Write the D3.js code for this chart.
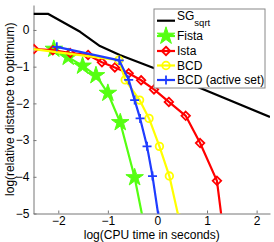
<!DOCTYPE html>
<html>
<head>
<meta charset="utf-8">
<script src="https://cdn.jsdelivr.net/npm/d3@7"></script>
<style>
  html, body { margin: 0; padding: 0; background: #fff; }
  svg { display: block; font-family: "Liberation Sans", Arial, sans-serif; }
  .tick text { font-size: 12px; fill: #000; }
  .axis-lbl { font-size: 12px; fill: #000; }
  .leg-txt { font-size: 12px; fill: #000; }
</style>
</head>
<body>
<svg id="chart"></svg>
<script>
const SVG_W = 274;
const SVG_H = 242;

// log10 CPU time / log10 relative distance
const sgX    = [-2.50, -2.21, -1.56, -1.16, -0.76, -0.05, 0.80, 2.27];
const sgY    = [ 0.44,  0.44, -0.05, -0.44, -0.68, -1.05, -1.55, -2.37];

const fistaX = [-2.09, -1.80, -1.51, -1.24, -1.00, -0.75, -0.46, -0.21];
const fistaY = [-0.52, -0.74, -0.98, -1.24, -1.72, -2.52, -4.02, -5.72];

const istaX  = [-2.49, -2.11, -1.76, -1.40, -1.12, -0.86, -0.58, -0.33, -0.07, 0.23, 0.57, 0.86, 1.20, 1.33];
const istaY  = [-0.52, -0.55, -0.63, -0.68, -0.88, -1.02, -1.18, -1.37, -1.62, -1.96, -2.34, -3.08, -4.11, -5.50];

const bcdX   = [-2.50, -0.78, -0.65, -0.36, -0.17, 0.04, 0.24, 0.43];
const bcdY   = [-0.52, -0.82, -1.36, -1.91, -2.41, -3.17, -3.98, -5.12];

const bcdaX  = [-2.03, -0.77, -0.58, -0.46, -0.35, -0.21, -0.10, 0.02];
const bcdaY  = [-0.46, -0.83, -1.36, -1.91, -2.41, -3.17, -3.98, -5.07];

const xTicks = [-2, -1, 0, 1, 2];
const yTicks = [-5, -4, -3, -2, -1, 0];

const seriesNames = ['SG', 'Fista', 'Ista', 'BCD', 'BCD (active set)'];

const MARGIN = { top: 5, right: 4, bottom: 28.5, left: 33.5 };
const W = SVG_W - MARGIN.left - MARGIN.right;
const H = SVG_H - MARGIN.top - MARGIN.bottom;

const xScale = d3.scaleLinear().domain([-2.5, 2.27]).range([0, W]);
const yScale = d3.scaleLinear().domain([-5, 0.68]).range([H, 0]);

// custom marker shapes
const plusSym = {
  draw(ctx, size) {
    const r = Math.sqrt(size) / 2;
    ctx.moveTo(-r, 0); ctx.lineTo(r, 0);
    ctx.moveTo(0, -r); ctx.lineTo(0, r);
  }
};
const diamondSym = {
  draw(ctx, size) {
    const r = Math.sqrt(size) / 2;
    ctx.moveTo(0, -r); ctx.lineTo(r, 0); ctx.lineTo(0, r); ctx.lineTo(-r, 0);
    ctx.closePath();
  }
};

const series = [
  { xs: sgX,    ys: sgY,    color: '#000000', marker: null },
  { xs: fistaX, ys: fistaY, color: '#55ff11', marker: d3.symbol(d3.symbolStar, 95), fill: true },
  { xs: istaX,  ys: istaY,  color: '#ff0000', marker: d3.symbol(diamondSym, 72) },
  { xs: bcdX,   ys: bcdY,   color: '#ffff00', marker: d3.symbol(d3.symbolCircle, 45) },
  { xs: bcdaX,  ys: bcdaY,  color: '#1f3cff', marker: d3.symbol(plusSym, 81) }
];

const svg = d3.select('#chart')
  .attr('width', SVG_W)
  .attr('height', SVG_H);

svg.append('defs').append('clipPath').attr('id', 'plot-clip')
  .append('rect').attr('x', 0).attr('y', 0).attr('width', W).attr('height', H);

const g = svg.append('g').attr('transform', `translate(${MARGIN.left},${MARGIN.top})`);

const fmt = d3.format('d');

// axes, ticks point inwards
const xAxis = g.append('g')
  .attr('transform', `translate(0,${H})`)
  .call(d3.axisBottom(xScale).tickValues(xTicks).tickFormat(fmt).tickSizeInner(-3).tickSizeOuter(0).tickPadding(3));
const yAxis = g.append('g')
  .call(d3.axisLeft(yScale).tickValues(yTicks).tickFormat(fmt).tickSizeInner(-3).tickSizeOuter(0).tickPadding(4));

[xAxis, yAxis].forEach(a => {
  a.select('.domain').attr('stroke', '#777');
  a.selectAll('.tick line').attr('stroke', '#777');
  a.selectAll('.tick text').style('font-size', '12px');
});

const plot = g.append('g').attr('clip-path', 'url(#plot-clip)');

const line = d3.line().x(d => xScale(d[0])).y(d => yScale(d[1]));
const x0 = xScale.domain()[0];

series.forEach(s => {
  const pts = s.xs.map((x, i) => [x, s.ys[i]]);
  plot.append('path')
    .attr('d', line(pts))
    .attr('fill', 'none')
    .attr('stroke', s.color)
    .attr('stroke-width', 2.2)
    .attr('stroke-linejoin', 'round');
  if (s.marker) {
    // points sitting on the left limit carry no marker
    plot.selectAll(null).data(pts.filter(d => d[0] > x0)).enter().append('path')
      .attr('transform', d => `translate(${xScale(d[0])},${yScale(d[1])})`)
      .attr('d', s.marker)
      .attr('fill', s.fill ? s.color : 'none')
      .attr('stroke', s.color)
      .attr('stroke-width', s.fill ? 1 : 1.8);
  }
});

// legend
const leg = svg.append('g').attr('transform', 'translate(154,9)');
leg.append('rect')
  .attr('x', 0).attr('y', 0).attr('width', 111).attr('height', 79)
  .attr('fill', '#fff').attr('stroke', '#888').attr('stroke-width', 1);

const rowY = [11.7, 27, 42, 56.5, 71];
series.forEach((s, i) => {
  const yy = rowY[i];
  leg.append('line')
    .attr('x1', 3).attr('x2', 21).attr('y1', yy).attr('y2', yy)
    .attr('stroke', s.color).attr('stroke-width', 2.2);
  if (s.marker) {
    leg.append('path')
      .attr('transform', `translate(12,${yy})`)
      .attr('d', s.marker)
      .attr('fill', s.fill ? s.color : 'none')
      .attr('stroke', s.color)
      .attr('stroke-width', s.fill ? 1 : 1.8);
  }
  if (i === 0) {
    const t = leg.append('text').attr('class', 'leg-txt').attr('x', 23).attr('y', 10.5);
    t.append('tspan').text(seriesNames[i]);
    t.append('tspan').attr('dy', 6).style('font-size', '9.5px').text('sqrt');
  } else {
    leg.append('text').attr('class', 'leg-txt')
      .attr('x', 23).attr('y', yy + 4.3)
      .text(seriesNames[i]);
  }
});

// axis labels
svg.append('text').attr('class', 'axis-lbl')
  .attr('x', MARGIN.left + W / 2).attr('y', 239)
  .attr('text-anchor', 'middle')
  .text('log(CPU time in seconds)');

svg.append('text').attr('class', 'axis-lbl')
  .attr('transform', `translate(13.5,${MARGIN.top + H / 2}) rotate(-90)`)
  .attr('text-anchor', 'middle')
  .text('log(relative distance to optimum)');
</script>
</body>
</html>
